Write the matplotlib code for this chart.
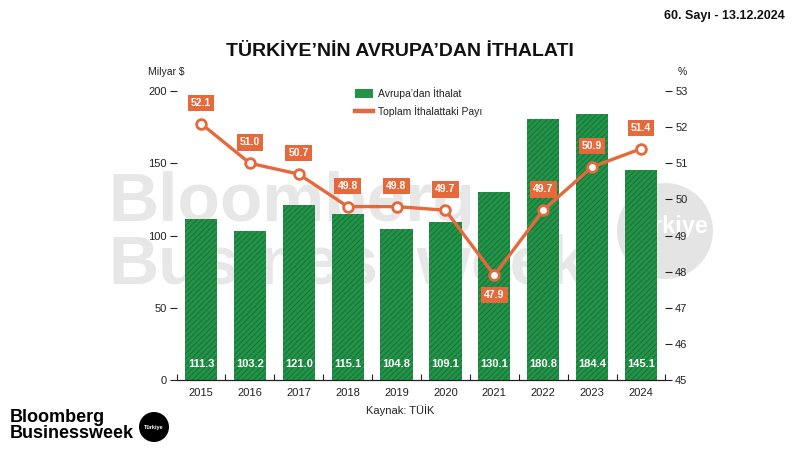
import numpy as np
import matplotlib
matplotlib.use("Agg")
import matplotlib.pyplot as plt
from matplotlib.patches import Patch, Circle
from matplotlib.lines import Line2D

# data
years = ['2015', '2016', '2017', '2018', '2019', '2020', '2021', '2022', '2023', '2024']
imports = [111.3, 103.2, 121.0, 115.1, 104.8, 109.1, 130.1, 180.8, 184.4, 145.1]   # Milyar $
share = [52.1, 51.0, 50.7, 49.8, 49.8, 49.7, 47.9, 49.7, 50.9, 51.4]               # %

green = '#239447'
green_dark = '#17703a'
orange = '#e5693a'
txt = '#222222'
wm = '#e7e7e7'

plt.rcParams['font.family'] = ['Liberation Sans', 'DejaVu Sans']
plt.rcParams['hatch.linewidth'] = 0.7

fig = plt.figure(figsize=(8, 4.5), dpi=100)
ax = fig.add_axes([176.5 / 800, 1 - 380 / 450, (665.5 - 176.5) / 800, (380 - 91) / 450])
ax2 = ax.twinx()
ax.patch.set_visible(False)
ax2.patch.set_visible(False)

# watermark (behind everything)
fig.text(108 / 800, 1 - 221 / 450, 'Bloomberg', fontsize=50, fontweight='bold',
         color=wm, va='baseline', ha='left', zorder=-5)
fig.text(108 / 800, 1 - 284 / 450, 'Businessweek', fontsize=50, fontweight='bold',
         color=wm, va='baseline', ha='left', zorder=-5)
fig.patches.append(Circle((6.65, 4.5 - 2.31), 0.48, transform=fig.dpi_scale_trans,
                          facecolor='#e4e4e4', edgecolor='none', zorder=-6))
fig.text(667 / 800, 1 - 226 / 450, 'Türkiye', fontsize=17, fontweight='bold',
         color='white', ha='center', va='center', zorder=-4)

x = np.arange(len(years))
ax.bar(x, imports, width=0.66, color=green, edgecolor=green_dark, linewidth=0,
       hatch='//////', zorder=2)
for xi, v in zip(x, imports):
    ax.text(xi, 11, f'{v:.1f}', color='white', fontsize=8, fontweight='bold',
            ha='center', va='center', zorder=3)

ax.set_xlim(-0.5, 9.5)
ax.set_ylim(0, 200)
ax.set_yticks([0, 50, 100, 150, 200])
ax.set_xticks(x)
ax.set_xticklabels(years)
ax.set_xticks(np.arange(-0.5, 10, 1), minor=True)
ax.tick_params(axis='y', direction='out', length=5, width=0.8, color=txt,
               labelsize=8, labelcolor=txt, pad=2)
ax.tick_params(axis='x', which='major', length=0, labelsize=8, labelcolor=txt, pad=6)
ax.tick_params(axis='x', which='minor', direction='in', length=4, width=0.8, color=txt)
for s in ['top', 'left', 'right']:
    ax.spines[s].set_visible(False)
ax.spines['bottom'].set_color(txt)
ax.spines['bottom'].set_linewidth(0.9)

# share line
ax2.plot(x, share, color=orange, lw=2.4, marker='o', markersize=7,
         markerfacecolor='white', markeredgecolor=orange, markeredgewidth=2, zorder=4)
ax2.set_ylim(45, 53)
ax2.set_yticks(range(45, 54))
ax2.tick_params(axis='y', direction='out', length=5, width=0.8, color=txt,
                labelsize=8, labelcolor=txt, pad=2)
for s in ['top', 'left', 'right', 'bottom']:
    ax2.spines[s].set_visible(False)
for xi, v in zip(x, share):
    dy = -14 if v < 48.5 else 15
    ax2.annotate(f'{v:.1f}', (xi, v), xytext=(0, dy), textcoords='offset points',
                 ha='center', va='center', fontsize=7.5, fontweight='bold', color='white',
                 bbox=dict(boxstyle='square,pad=0.3', facecolor=orange, edgecolor='none'),
                 zorder=5)

# legend
handles = [Patch(facecolor=green, edgecolor='none'),
           Line2D([], [], color=orange, lw=3.2)]
fig.legend(handles, ['Avrupa’dan İthalat', 'Toplam İthalattaki Payı'],
           loc='upper left', bbox_to_anchor=(346 / 800, 1 - 78 / 450), frameon=False,
           fontsize=7.5, handlelength=1.7, handleheight=1.0, handletextpad=0.5,
           labelspacing=0.6, labelcolor=txt)

# texts
fig.text(0.5, 1 - 52 / 450, 'TÜRKİYE’NİN AVRUPA’DAN İTHALATI', fontsize=14,
         fontweight='bold', color='#111111', ha='center', va='center')
fig.text(148 / 800, 1 - 72 / 450, 'Milyar $', fontsize=7.5, color=txt, va='center')
fig.text(678 / 800, 1 - 72 / 450, '%', fontsize=7.5, color=txt, va='center')
fig.text(0.5, 1 - 410 / 450, 'Kaynak: TÜİK', fontsize=8, color=txt, ha='center', va='center')
fig.text(785 / 800, 1 - 16 / 450, '60. Sayı - 13.12.2024', fontsize=9, fontweight='bold',
         color='#111111', ha='right', va='center')

# footer logo
fig.text(10 / 800, 1 - 418 / 450, 'Bloomberg', fontsize=13, fontweight='bold',
         color='black', va='center')
fig.text(10 / 800, 1 - 433 / 450, 'Businessweek', fontsize=13, fontweight='bold',
         color='black', va='center')
fig.patches.append(Circle((1.54, 4.5 - 4.27), 0.15, transform=fig.dpi_scale_trans,
                          facecolor='black', edgecolor='none'))
fig.text(154 / 800, 1 - 427 / 450, 'Türkiye', fontsize=4, fontweight='bold',
         color='white', ha='center', va='center')

fig.savefig('out.png', dpi=100)
